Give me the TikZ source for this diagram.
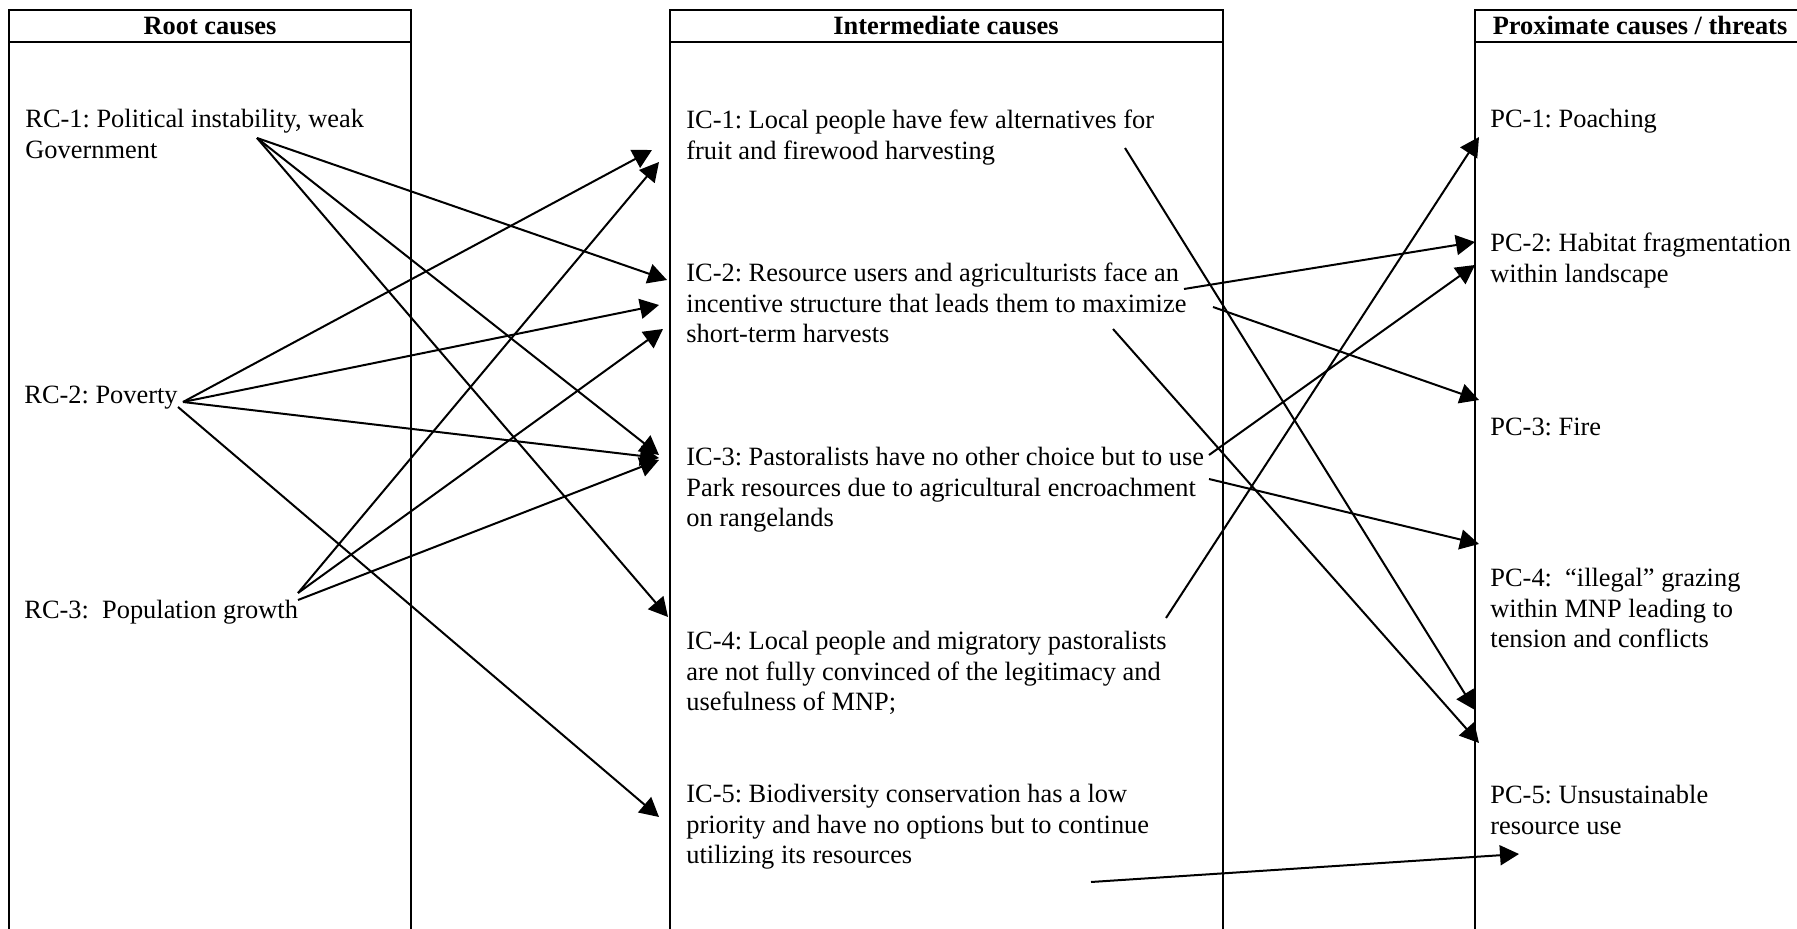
\documentclass[tikz,border=0pt]{standalone}
\usepackage{fontspec}
\setmainfont{Liberation Serif}
\usetikzlibrary{arrows.meta}
\newcommand{\causefont}{\fontsize{13.2pt}{15.25pt}\selectfont\frenchspacing}

\begin{document}
\begin{tikzpicture}[
    x=0.5pt, y=-0.5pt,
    frame/.style={draw, line width=1.2pt},
    head/.style={font=\causefont\bfseries, inner sep=0pt},
    cause/.style={anchor=north west, inner sep=0pt, align=left, font=\causefont},
    arrow/.style={-{Triangle[length=9.5pt,width=10pt]}, line width=1pt}
  ]
  \useasboundingbox (0,0) rectangle (1797,929);
  \clip (0,0) rectangle (1797,929);

  % column frames
  \draw[frame] (9,10) rectangle (411,960);
  \draw[frame] (670,10) rectangle (1223,960);
  \draw[frame] (1475,10) rectangle (1806,960);
  \draw[frame] (9,42) -- (411,42) (670,42) -- (1223,42) (1475,42) -- (1806,42);

  % headers
  \node[head] (rhead) at (210,26) {Root causes};
  \node[head] (ihead) at (946,26) {Intermediate causes};
  \node[head] (phead) at (1640,26) {Proximate causes / threats};

  % root causes
  \node[cause] (rc1) at (25,106) {\strut RC-1: Political instability, weak\\Government};
  \node[cause] (rc2) at (24,382) {\strut RC-2: Poverty};
  \node[cause] (rc3) at (24,597) {\strut RC-3:~~Population growth};

  % intermediate causes
  \node[cause] (ic1) at (686,107) {\strut IC-1: Local people have few alternatives for\\fruit and firewood harvesting};
  \node[cause] (ic2) at (686,260) {\strut IC-2: Resource users and agriculturists face an\\incentive structure that leads them to maximize\\short-term harvests};
  \node[cause] (ic3) at (686,444) {\strut IC-3: Pastoralists have no other choice but to use\\Park resources due to agricultural encroachment\\on rangelands};
  \node[cause] (ic4) at (686,628) {\strut IC-4: Local people and migratory pastoralists\\are not fully convinced of the legitimacy and\\usefulness of MNP;};
  \node[cause] (ic5) at (686,781) {\strut IC-5: Biodiversity conservation has a low\\priority and have no options but to continue\\utilizing its resources};

  % proximate causes
  \node[cause] (pc1) at (1490,106) {\strut PC-1: Poaching};
  \node[cause] (pc2) at (1490,230) {\strut PC-2: Habitat fragmentation\\within landscape};
  \node[cause] (pc3) at (1490,414) {\strut PC-3: Fire};
  \node[cause] (pc4) at (1490,565) {\strut PC-4:~~“illegal” grazing\\within MNP leading to\\tension and conflicts};
  \node[cause] (pc5) at (1490,782) {\strut PC-5: Unsustainable\\resource use};

  % root -> intermediate
  \draw[arrow] ([shift={(232,32)}]rc1.north west) -- ([shift={(-19,20)}]ic2.north west);
  \draw[arrow] ([shift={(232,32)}]rc1.north west) -- ([shift={(-27,11)}]ic3.north west);
  \draw[arrow] ([shift={(232,32)}]rc1.north west) -- ([shift={(-18,-11)}]ic4.north west);
  \draw[arrow] ([shift={(159,20)}]rc2.north west) -- ([shift={(-34,43)}]ic1.north west);
  \draw[arrow] ([shift={(159,20)}]rc2.north west) -- ([shift={(-27,45)}]ic2.north west);
  \draw[arrow] ([shift={(159,20)}]rc2.north west) -- ([shift={(-27,14)}]ic3.north west);
  \draw[arrow] ([shift={(154,25)}]rc2.north west) -- ([shift={(-27,36)}]ic5.north west);
  \draw[arrow] ([shift={(274,-4)}]rc3.north west) -- ([shift={(-27,55)}]ic1.north west);
  \draw[arrow] ([shift={(274,-4)}]rc3.north west) -- ([shift={(-23,69)}]ic2.north west);
  \draw[arrow] ([shift={(274,3)}]rc3.north west) -- ([shift={(-27,16)}]ic3.north west);

  % intermediate -> proximate
  \draw[arrow] ([shift={(439,41)}]ic1.north west) -- ([shift={(-15,-72)}]pc5.north west);
  \draw[arrow] ([shift={(498,29)}]ic2.north west) -- ([shift={(-15,12)}]pc2.north west);
  \draw[arrow] ([shift={(527,47)}]ic2.north west) -- ([shift={(-11,-14)}]pc3.north west);
  \draw[arrow] ([shift={(427,69)}]ic2.north west) -- ([shift={(-11,-39)}]pc5.north west);
  \draw[arrow] ([shift={(523,11)}]ic3.north west) -- ([shift={(-15,35)}]pc2.north west);
  \draw[arrow] ([shift={(523,35)}]ic3.north west) -- ([shift={(-11,-21)}]pc4.north west);
  \draw[arrow] ([shift={(480,-10)}]ic4.north west) -- ([shift={(-11,31)}]pc1.north west);
  \draw[arrow] ([shift={(405,101)}]ic5.north west) -- ([shift={(29,72)}]pc5.north west);
\end{tikzpicture}
\end{document}
